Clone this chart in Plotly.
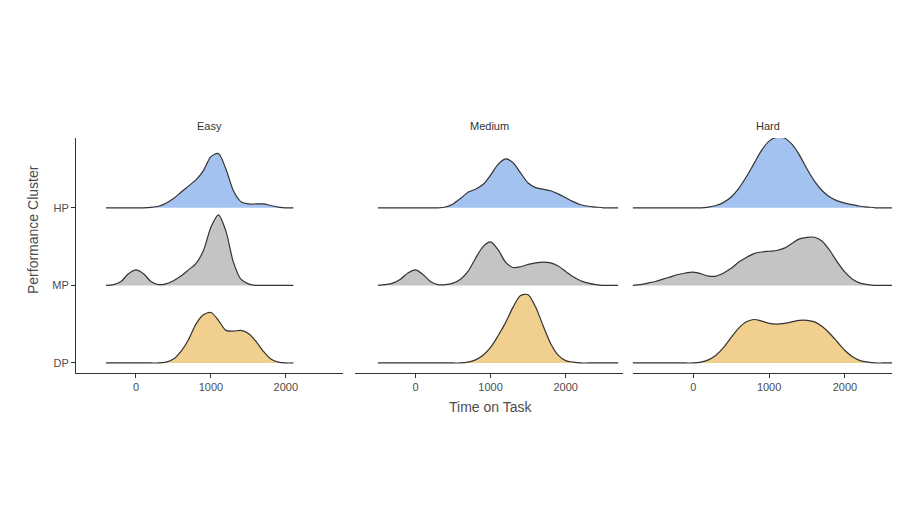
import plotly.graph_objects as go

clusters = ['DP', 'MP', 'HP']
offsets = {'DP': 0, 'MP': 1, 'HP': 2}
colors = {'HP': '#a4c2f0', 'MP': '#c4c4c4', 'DP': '#f0cf8f'}
difficulties = ['Easy', 'Medium', 'Hard']

# x grids (step 100) per facet
easy_x = list(range(-400, 2101, 100))
medium_x = list(range(-500, 2701, 100))
hard_x = list(range(-800, 2701, 100))

# scaled density heights
easy_hp = [0, 0, 0, 0, 0, 0, 0.005, 0.02, 0.06, 0.12, 0.2, 0.28, 0.36, 0.48, 0.66, 0.7, 0.5, 0.22, 0.08, 0.05, 0.05, 0.05, 0.03, 0.01, 0, 0]
easy_mp = [0, 0.01, 0.05, 0.15, 0.2, 0.15, 0.05, 0.01, 0.02, 0.06, 0.12, 0.2, 0.28, 0.45, 0.75, 0.91, 0.7, 0.3, 0.08, 0.02, 0, 0, 0, 0, 0, 0]
easy_dp = [0, 0, 0, 0, 0, 0, 0, 0, 0.01, 0.05, 0.15, 0.3, 0.5, 0.62, 0.65, 0.55, 0.42, 0.41, 0.42, 0.38, 0.28, 0.15, 0.05, 0.01, 0, 0]

medium_hp = [0, 0, 0, 0, 0, 0, 0, 0, 0, 0.01, 0.05, 0.12, 0.2, 0.24, 0.3, 0.42, 0.56, 0.63, 0.58, 0.45, 0.32, 0.26, 0.24, 0.22, 0.18, 0.13, 0.08, 0.04, 0.02, 0.01, 0, 0, 0]
medium_mp = [0, 0.01, 0.03, 0.08, 0.16, 0.2, 0.14, 0.05, 0.01, 0.01, 0.03, 0.08, 0.18, 0.35, 0.5, 0.56, 0.46, 0.3, 0.23, 0.24, 0.27, 0.29, 0.3, 0.29, 0.25, 0.18, 0.11, 0.06, 0.03, 0.01, 0, 0, 0]
medium_dp = [0, 0, 0, 0, 0, 0, 0, 0, 0, 0, 0, 0, 0.01, 0.04, 0.1, 0.2, 0.35, 0.52, 0.72, 0.87, 0.88, 0.72, 0.48, 0.25, 0.1, 0.03, 0.01, 0, 0, 0, 0, 0, 0]

hard_hp = [0, 0, 0, 0, 0, 0, 0, 0, 0, 0, 0.01, 0.03, 0.07, 0.14, 0.25, 0.4, 0.57, 0.74, 0.86, 0.91, 0.9, 0.82, 0.68, 0.5, 0.34, 0.22, 0.14, 0.09, 0.06, 0.04, 0.02, 0.01, 0, 0, 0, 0]
hard_mp = [0, 0.01, 0.03, 0.05, 0.08, 0.11, 0.14, 0.16, 0.17, 0.15, 0.12, 0.12, 0.16, 0.22, 0.3, 0.36, 0.41, 0.43, 0.44, 0.45, 0.48, 0.54, 0.6, 0.62, 0.62, 0.57, 0.45, 0.3, 0.17, 0.08, 0.03, 0.01, 0, 0, 0, 0]
hard_dp = [0, 0, 0, 0, 0, 0, 0, 0, 0, 0.01, 0.04, 0.1, 0.2, 0.33, 0.45, 0.53, 0.56, 0.54, 0.51, 0.5, 0.51, 0.53, 0.55, 0.55, 0.53, 0.47, 0.38, 0.27, 0.16, 0.08, 0.03, 0.01, 0, 0, 0, 0]

data = {
    'Easy': (easy_x, {'HP': easy_hp, 'MP': easy_mp, 'DP': easy_dp}),
    'Medium': (medium_x, {'HP': medium_hp, 'MP': medium_mp, 'DP': medium_dp}),
    'Hard': (hard_x, {'HP': hard_hp, 'MP': hard_mp, 'DP': hard_dp}),
}

domains = [[0.0756, 0.372], [0.386, 0.683], [0.694, 0.994]]
tickfont = dict(family='Arial', size=11, color='#4d4d4d')

fig = go.Figure()
layout = dict(width=900, height=520, plot_bgcolor='white', paper_bgcolor='white',
              margin=dict(l=0, r=0, t=0, b=0, autoexpand=False), showlegend=False, annotations=[])

for i, diff in enumerate(difficulties):
    xs, dens = data[diff]
    xa = 'x' if i == 0 else 'x%d' % (i + 1)
    ya = 'y' if i == 0 else 'y%d' % (i + 1)
    for cl in ['HP', 'MP', 'DP']:
        off = offsets[cl]
        fig.add_trace(go.Scatter(x=xs, y=[off] * len(xs), mode='lines', line=dict(width=0),
                                 xaxis=xa, yaxis=ya, hoverinfo='skip'))
        fig.add_trace(go.Scatter(x=xs, y=[off + v for v in dens[cl]], mode='lines',
                                 line=dict(color='#333333', width=1.2, shape='spline', smoothing=0.8),
                                 fill='tonexty', fillcolor=colors[cl], xaxis=xa, yaxis=ya, name=cl))
    suffix = '' if i == 0 else str(i + 1)
    layout['xaxis' + suffix] = dict(domain=domains[i], range=[-800, 2760], anchor=ya,
                                    tickvals=[0, 1000, 2000], ticks='outside', ticklen=4,
                                    tickcolor='#333', showline=True, linecolor='#333',
                                    showgrid=False, zeroline=False, tickfont=tickfont,
                                    automargin=False)
    layout['yaxis' + suffix] = dict(domain=[0.298, 0.75], range=[-0.13, 2.9], anchor=xa,
                                    tickvals=[0, 1, 2], ticktext=clusters,
                                    showticklabels=(i == 0), ticks='outside' if i == 0 else '',
                                    ticklen=4, tickcolor='#333', showline=(i == 0),
                                    linecolor='#333', showgrid=False, zeroline=False,
                                    tickfont=tickfont, automargin=False)
    layout['annotations'].append(dict(text=diff, x=sum(domains[i]) / 2, y=1 - 118 / 520,
                                      xref='paper', yref='paper', showarrow=False,
                                      yanchor='middle', xanchor='center',
                                      font=dict(family='Arial', size=11, color='#333')))

layout['annotations'].append(dict(text='Time on Task', x=482 / 900, y=1 - 399 / 520,
                                  xref='paper', yref='paper', showarrow=False,
                                  yanchor='middle', xanchor='center',
                                  font=dict(family='Arial', size=14, color='#4d4d4d')))
layout['annotations'].append(dict(text='Performance Cluster', x=25 / 900, y=1 - 222 / 520,
                                  xref='paper', yref='paper', showarrow=False, textangle=-90,
                                  yanchor='middle', xanchor='center',
                                  font=dict(family='Arial', size=14, color='#4d4d4d')))
fig.update_layout(**layout)
fig.write_html("out.html")
